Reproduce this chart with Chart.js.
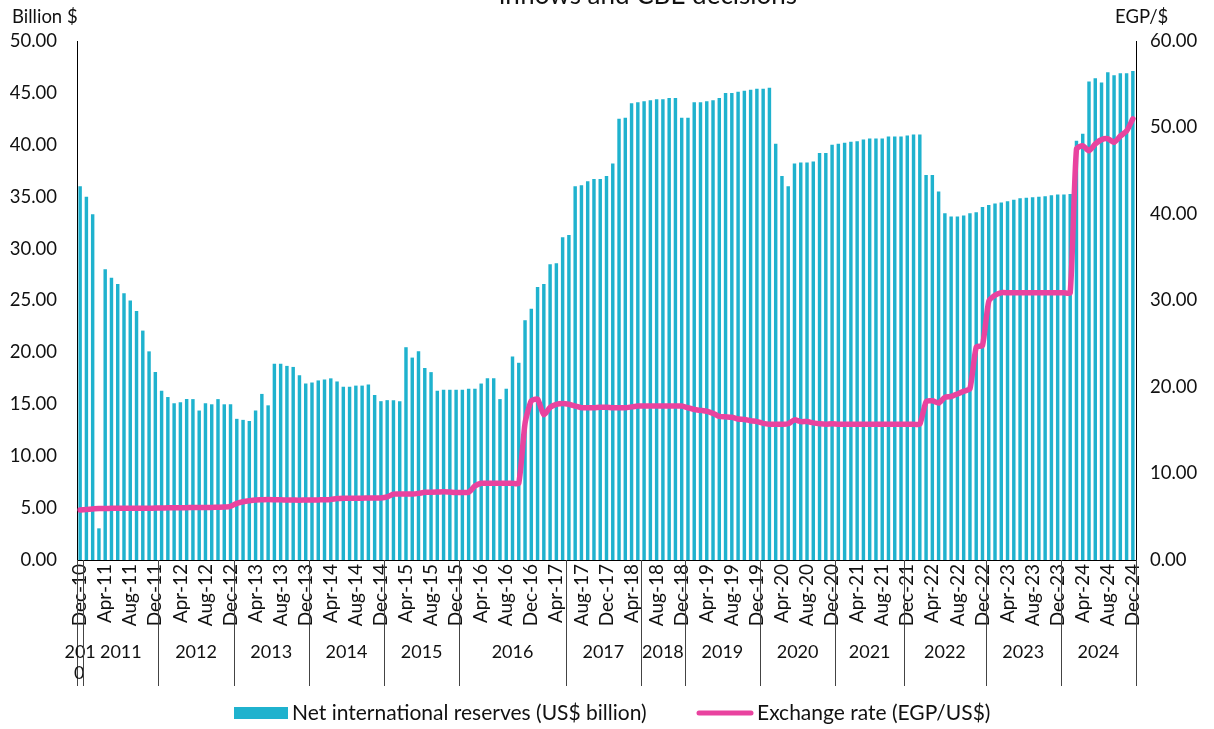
<!DOCTYPE html>
<html lang="en">
<head>
    <meta charset="UTF-8">
    <title>Net international reserves and exchange rate</title>
    <style>
        body { margin: 0; background: #fff; }
        #wrap { width: 1214px; height: 729px; }
    </style>
</head>
<body>
    <div id="wrap">
        <canvas id="reserveChart" width="1214" height="729"></canvas>
    </div>
    <script src="https://cdn.jsdelivr.net/npm/chart.js"></script>
    <script>
        // monthly, Dec-10 .. Dec-24
        const monthNames = ['Jan','Feb','Mar','Apr','May','Jun','Jul','Aug','Sep','Oct','Nov','Dec'];
        const categories = ['Dec-10'];
        for (let y = 11; y <= 24; y++) {
            monthNames.forEach(m => categories.push(m + '-' + y));
        }
        const tickEvery = 4;

        // Net international reserves (US$ billion)
        const reserves = [
            36.0, 35.0, 33.3, 3.05, 28.0, 27.2, 26.6, 25.7, 25.0, 24.0, 22.1, 20.1,
            18.1, 16.3, 15.7, 15.1, 15.2, 15.5, 15.5, 14.4, 15.1, 15.0, 15.5, 15.0,
            15.0, 13.6, 13.5, 13.4, 14.4, 16.0, 14.9, 18.9, 18.9, 18.7, 18.6, 17.8,
            17.0, 17.1, 17.3, 17.4, 17.5, 17.2, 16.7, 16.7, 16.8, 16.8, 16.9, 15.9,
            15.3, 15.4, 15.4, 15.3, 20.5, 19.5, 20.1, 18.5, 18.1, 16.3, 16.4, 16.4,
            16.4, 16.4, 16.5, 16.5, 17.0, 17.5, 17.5, 15.5, 16.5, 19.6, 19.0, 23.1,
            24.2, 26.3, 26.6, 28.5, 28.6, 31.1, 31.3, 36.0, 36.1, 36.5, 36.7, 36.7,
            37.0, 38.2, 42.5, 42.6, 44.0, 44.1, 44.2, 44.3, 44.4, 44.4, 44.5, 44.5,
            42.6, 42.6, 44.1, 44.1, 44.2, 44.3, 44.5, 45.0, 45.0, 45.1, 45.2, 45.3,
            45.4, 45.4, 45.5, 40.1, 37.0, 36.0, 38.2, 38.3, 38.3, 38.4, 39.2, 39.2,
            40.0, 40.1, 40.2, 40.3, 40.35, 40.5, 40.6, 40.6, 40.6, 40.8, 40.8, 40.8,
            40.9, 41.0, 41.0, 37.1, 37.1, 35.5, 33.4, 33.1, 33.1, 33.2, 33.4, 33.5,
            34.0, 34.2, 34.35, 34.45, 34.55, 34.7, 34.85, 34.9, 34.95, 35.0, 35.05, 35.15,
            35.2, 35.2, 35.25, 40.4, 41.06, 46.1, 46.4, 46.0, 47.0, 46.7, 46.9, 46.9, 47.1
        ];

        // Exchange rate (EGP/US$)
        const exchangeRate = [
            5.79, 5.85, 5.9, 5.95, 5.96, 5.97, 5.97, 5.97, 5.97, 5.97, 5.98, 5.98,
            6.0, 6.02, 6.03, 6.04, 6.05, 6.05, 6.06, 6.06, 6.07, 6.08, 6.1, 6.12,
            6.2, 6.55, 6.74, 6.86, 6.94, 6.96, 6.98, 6.97, 6.96, 6.94, 6.93, 6.92,
            6.94, 6.94, 6.95, 6.96, 7.0, 7.1, 7.14, 7.15, 7.15, 7.15, 7.16, 7.16,
            7.17, 7.3, 7.62, 7.63, 7.63, 7.63, 7.7, 7.82, 7.83, 7.85, 7.9, 7.85,
            7.8, 7.8, 7.83, 8.55, 8.87, 8.87, 8.87, 8.87, 8.87, 8.87, 8.87, 15.8,
            18.4, 18.6, 16.8, 17.65, 18.0, 18.1, 18.0, 17.8, 17.6, 17.6, 17.6, 17.65,
            17.65, 17.6, 17.6, 17.6, 17.7, 17.8, 17.8, 17.8, 17.8, 17.8, 17.8, 17.8,
            17.8, 17.6, 17.4, 17.3, 17.2, 16.95, 16.6, 16.55, 16.5, 16.3, 16.25, 16.1,
            16.0, 15.8, 15.7, 15.7, 15.7, 15.75, 16.2, 16.0, 16.0, 15.85, 15.75, 15.7,
            15.75, 15.7, 15.7, 15.7, 15.7, 15.7, 15.7, 15.7, 15.7, 15.7, 15.7, 15.7,
            15.7, 15.7, 15.7, 18.3, 18.4, 18.15, 18.8, 18.9, 19.2, 19.5, 19.8, 24.6,
            24.8, 29.9, 30.6, 30.9, 30.9, 30.9, 30.9, 30.9, 30.9, 30.9, 30.9, 30.9,
            30.9, 30.9, 30.9, 47.5, 47.9, 47.3, 48.1, 48.6, 48.7, 48.3, 49.0, 49.6, 51.0
        ];

        // year groups under the axis (as in the source workbook)
        const yearLabels = ['2010', '2011', '2012', '2013', '2014', '2015', '2016', '2017',
                            '2018', '2019', '2020', '2021', '2022', '2023', '2024'];
        const yearCounts = [1, 12, 12, 12, 12, 12, 17, 12, 7, 12, 12, 11, 13, 12, 12];

        const FONT = 'Lato, "Noto Sans", sans-serif';
        const TEAL = '#1fb2ce';
        const PINK = '#e9439f';

        const yearRow = {
            id: 'yearRow',
            afterDraw(chart) {
                const ctx = chart.ctx;
                const xs = chart.scales.x;
                const n = categories.length;
                const top = xs.top;
                const bottom = top + 126;
                ctx.save();
                ctx.strokeStyle = '#444';
                ctx.lineWidth = 1;
                ctx.fillStyle = '#111';
                ctx.font = '18px ' + FONT;
                ctx.textAlign = 'center';
                ctx.textBaseline = 'middle';
                let start = 0;
                yearLabels.forEach((lab, i) => {
                    const end = start + yearCounts[i] - 1;
                    const left = start === 0 ? xs.left : (xs.getPixelForValue(start - 1) + xs.getPixelForValue(start)) / 2;
                    const right = end >= n - 1 ? xs.right : (xs.getPixelForValue(end) + xs.getPixelForValue(end + 1)) / 2;
                    ctx.beginPath();
                    ctx.moveTo(Math.round(left) + 0.5, top);
                    ctx.lineTo(Math.round(left) + 0.5, bottom);
                    ctx.stroke();
                    const cx = (left + right) / 2;
                    if (ctx.measureText(lab).width > right - left + 20) {
                        ctx.fillText(lab.slice(0, -1), cx, top + 92);
                        ctx.fillText(lab.slice(-1), cx - 1, top + 113);
                    } else {
                        ctx.fillText(lab, cx, top + 92);
                    }
                    start = end + 1;
                });
                ctx.beginPath();
                ctx.moveTo(Math.round(xs.right) + 0.5, top);
                ctx.lineTo(Math.round(xs.right) + 0.5, bottom);
                ctx.stroke();
                ctx.restore();
            }
        };

        const extraText = {
            id: 'extraText',
            afterDraw(chart) {
                const ctx = chart.ctx;
                const ds = chart.data.datasets;
                ctx.save();
                ctx.fillStyle = '#111';
                ctx.textBaseline = 'middle';
                ctx.font = '18.5px ' + FONT;
                ctx.textAlign = 'left';
                ctx.fillText('Billion $', 12, 17);
                ctx.fillText('EGP/$', 1115, 17);
                // clipped chart title at the very top
                ctx.textAlign = 'center';
                ctx.textBaseline = 'alphabetic';
                ctx.font = '26px ' + FONT;
                ctx.fillText('inflows and CBE decisions', 648, 4);

                // legend
                ctx.textBaseline = 'middle';
                ctx.textAlign = 'left';
                ctx.font = '21px ' + FONT;
                const ly = 713;
                ctx.fillStyle = TEAL;
                ctx.fillRect(234, ly - 6, 54, 12);
                ctx.fillStyle = '#111';
                ctx.fillText(ds[0].label, 292, ly);
                ctx.strokeStyle = PINK;
                ctx.lineWidth = 5;
                ctx.lineCap = 'round';
                ctx.beginPath();
                ctx.moveTo(699, ly);
                ctx.lineTo(751, ly);
                ctx.stroke();
                ctx.fillText(ds[1].label, 757, ly);
                ctx.restore();
            }
        };

        const ctx = document.getElementById('reserveChart').getContext('2d');
        new Chart(ctx, {
            data: {
                labels: categories,
                datasets: [
                    {
                        type: 'bar',
                        label: 'Net international reserves (US$ billion)',
                        data: reserves,
                        backgroundColor: TEAL,
                        barPercentage: 0.55,
                        categoryPercentage: 1.0,
                        yAxisID: 'y',
                        order: 2
                    },
                    {
                        type: 'line',
                        label: 'Exchange rate (EGP/US$)',
                        data: exchangeRate,
                        borderColor: PINK,
                        backgroundColor: PINK,
                        borderWidth: 5.5,
                        pointRadius: 0,
                        tension: 0.2,
                        borderCapStyle: 'round',
                        borderJoinStyle: 'round',
                        yAxisID: 'y1',
                        order: 1
                    }
                ]
            },
            options: {
                responsive: false,
                animation: false,
                devicePixelRatio: 1,
                layout: { padding: { top: 41, left: 0, right: 0, bottom: 0 } },
                plugins: {
                    legend: { display: false },
                    tooltip: { enabled: false }
                },
                scales: {
                    x: {
                        grid: { display: false, drawTicks: false },
                        border: { display: true, color: '#000', width: 1 },
                        ticks: {
                            autoSkip: false,
                            minRotation: 90,
                            maxRotation: 90,
                            padding: 4,
                            color: '#111',
                            font: { family: FONT, size: 19 },
                            callback: function (value, index) {
                                return index % tickEvery === 0 ? categories[index] : '';
                            }
                        },
                        afterFit: function (scale) { scale.height = 169; }
                    },
                    y: {
                        position: 'left',
                        min: 0,
                        max: 50,
                        grid: { display: false, drawTicks: false },
                        border: { display: true, color: '#000', width: 1 },
                        ticks: {
                            stepSize: 5,
                            padding: 20,
                            color: '#111',
                            font: { family: FONT, size: 18.5 },
                            callback: v => v.toFixed(2)
                        },
                        afterFit: function (scale) { scale.width = 77; }
                    },
                    y1: {
                        position: 'right',
                        min: 0,
                        max: 60,
                        grid: { display: false, drawTicks: false },
                        border: { display: true, color: '#000', width: 1 },
                        ticks: {
                            stepSize: 10,
                            padding: 14,
                            color: '#111',
                            font: { family: FONT, size: 18.5 },
                            callback: v => v.toFixed(2)
                        },
                        afterFit: function (scale) { scale.width = 78; }
                    }
                }
            },
            plugins: [yearRow, extraText]
        });
    </script>
</body>
</html>
